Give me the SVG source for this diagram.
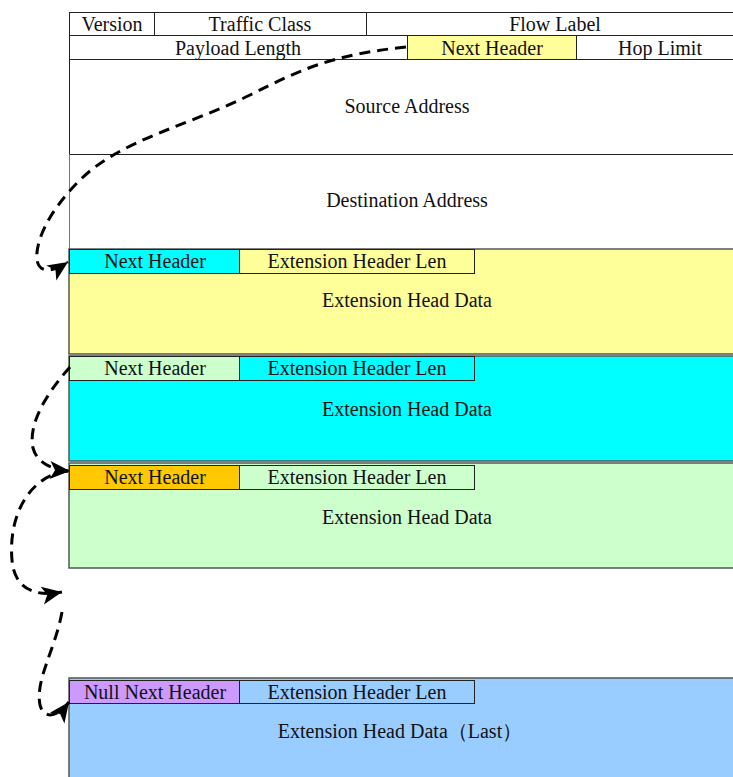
<svg xmlns="http://www.w3.org/2000/svg" width="733" height="777" viewBox="0 0 733 777" font-family="'Liberation Serif', 'DejaVu Serif', serif">
  <style>
    text { font-family: "Liberation Serif", "DejaVu Serif", serif; font-size: 20px; fill: #111; text-anchor: middle; dominant-baseline: central; }
    .cell { stroke: #222; stroke-width: 1; }
    .block { stroke: #555; stroke-width: 1.5; }
    .link { fill: none; stroke: #000; stroke-width: 3; stroke-dasharray: 11 7; marker-end: url(#head); }
  </style>
  <defs>
    <marker id="head" markerUnits="userSpaceOnUse" markerWidth="26" markerHeight="22" refX="20" refY="9" orient="auto" overflow="visible">
      <path d="M0,0 L20,9 L0,18 L5,9 z" fill="#000"/>
    </marker>
  </defs>

  <rect width="733" height="777" fill="#fff"/>

  <!-- fixed IPv6 header -->
  <g id="ipv6-header">
    <rect class="cell" x="69.5" y="12.5" width="85" height="23" fill="#fff"/>
    <rect class="cell" x="154.5" y="12.5" width="212" height="23" fill="#fff"/>
    <rect class="cell" x="366.5" y="12.5" width="370" height="23" fill="#fff"/>
    <rect class="cell" x="69.5" y="35.5" width="338" height="24" fill="#fff"/>
    <rect class="cell" x="407.5" y="35.5" width="169" height="24" fill="#FFFF99"/>
    <rect class="cell" x="576.5" y="35.5" width="160" height="24" fill="#fff"/>
    <text x="112" y="24">Version</text>
    <text x="260" y="24">Traffic Class</text>
    <text x="555" y="24">Flow Label</text>
    <text x="238" y="47.5">Payload Length</text>
    <text x="492" y="47.5">Next Header</text>
    <text x="660" y="47.5">Hop Limit</text>
  </g>

  <g id="source-address">
    <path d="M69.5,59.5 V154.5 M69.5,154.5 H736" stroke="#222" fill="none"/>
    <text x="407" y="106">Source Address</text>
  </g>

  <g id="destination-address">
    <path d="M69.5,154.5 V249" stroke="#777" fill="none"/>
    <text x="407" y="200">Destination Address</text>
  </g>

  <!-- extension header 1 -->
  <g id="ext-header-1">
    <rect class="block" x="69" y="249" width="670" height="105" fill="#FFFF99"/>
    <rect class="cell" x="69.5" y="249.5" width="170" height="24" fill="#00FFFF"/>
    <rect class="cell" x="239.5" y="249.5" width="235" height="24" fill="#FFFF99"/>
    <text x="155" y="261">Next Header</text>
    <text x="357" y="261">Extension Header Len</text>
    <text x="407" y="300">Extension Head Data</text>
  </g>

  <!-- extension header 2 -->
  <g id="ext-header-2">
    <rect class="block" x="69" y="356" width="670" height="105" fill="#00FFFF"/>
    <rect class="cell" x="69.5" y="356.5" width="170" height="24" fill="#CCFFCC"/>
    <rect class="cell" x="239.5" y="356.5" width="235" height="24" fill="#00FFFF"/>
    <text x="155" y="368">Next Header</text>
    <text x="357" y="368">Extension Header Len</text>
    <text x="407" y="409">Extension Head Data</text>
  </g>

  <!-- extension header 3 -->
  <g id="ext-header-3">
    <rect class="block" x="69" y="463" width="670" height="105" fill="#CCFFCC"/>
    <rect class="cell" x="69.5" y="465.5" width="170" height="24" fill="#FFC800"/>
    <rect class="cell" x="239.5" y="465.5" width="235" height="24" fill="#CCFFCC"/>
    <text x="155" y="477">Next Header</text>
    <text x="357" y="477">Extension Header Len</text>
    <text x="407" y="517">Extension Head Data</text>
  </g>

  <!-- last extension header -->
  <g id="ext-header-last">
    <rect class="block" x="69" y="678" width="670" height="110" fill="#99CCFF"/>
    <rect class="cell" x="69.5" y="680.5" width="170" height="23" fill="#CC99FF"/>
    <rect class="cell" x="239.5" y="680.5" width="235" height="23" fill="#99CCFF"/>
    <text x="155" y="691.5">Null Next Header</text>
    <text x="357" y="691.5">Extension Header Len</text>
    <text x="400" y="731">Extension Head Data（Last）</text>
  </g>

  <!-- next-header chain -->
  <g id="connectors">
    <path class="link" d="M406,47 C330,55 300,70 250,95 C190,125 120,140 80,180 C45,215 35,245 37,260 C39,272 50,274 68,262"/>
    <path class="link" d="M70,367 C45,395 28,425 33,448 C37,463 52,470 70,471"/>
    <path class="link" d="M68,471 C30,475 8,515 12,560 C14,585 30,598 62,592"/>
    <path class="link" d="M62,612 C55,650 35,680 40,705 C44,720 58,717 69,702"/>
  </g>
</svg>
